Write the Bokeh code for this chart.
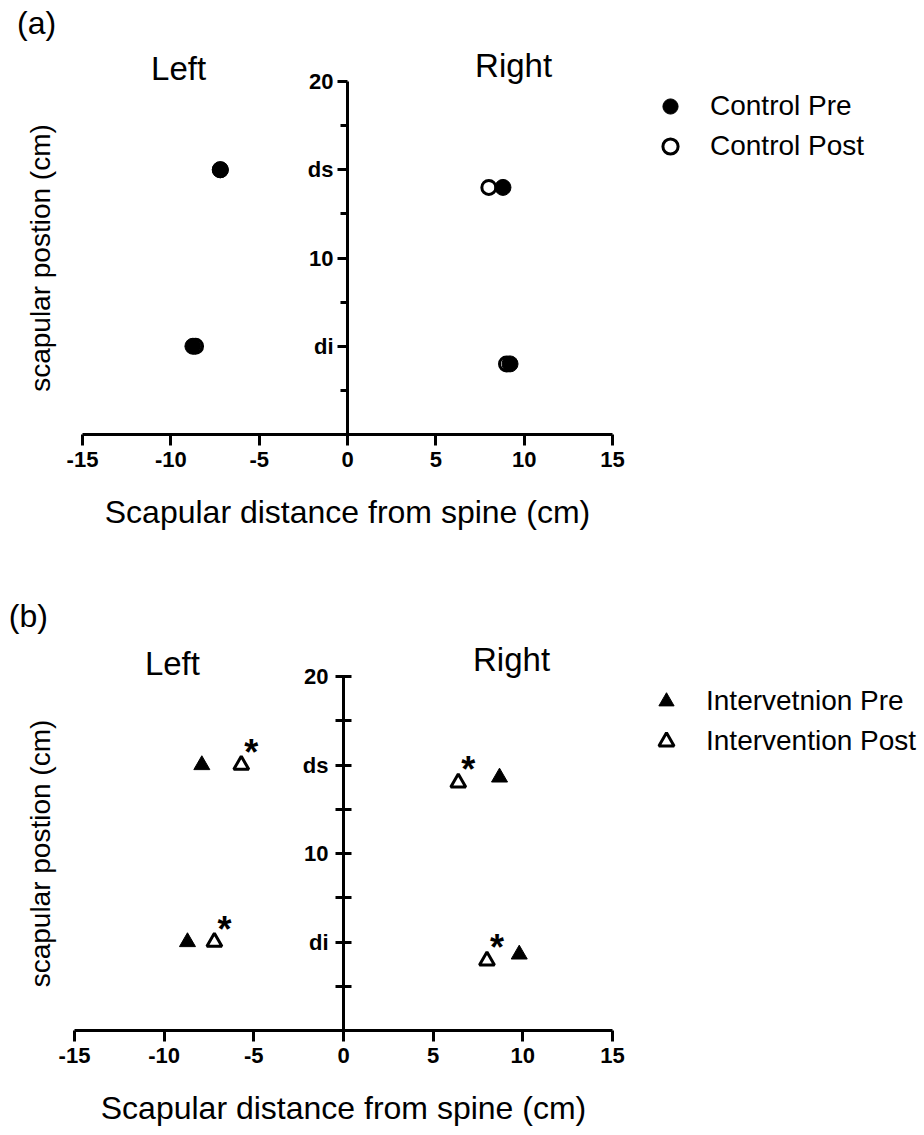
import math
from bokeh.plotting import figure
from bokeh.models import Range1d, FixedTicker, Label, Legend, LegendItem, ColumnDataSource
from bokeh.layouts import column
from bokeh.embed import file_html
from bokeh.resources import INLINE
from bokeh.core.properties import value

# ---------------- data ----------------
x_ticks = [-15, -10, -5, 0, 5, 10, 15]
x_tick_names = {-15: "-15", -10: "-10", -5: "-5"}
y_ticks = [5, 10, 15, 20]
y_minor = [2.5, 7.5, 12.5, 17.5]
y_tick_names = {5: "di", 15: "ds"}

# panel (a) control group: (distance from spine, scapular position)
ctrl_pre_x = [-7.2, -8.75, 8.8, 9.2]
ctrl_pre_y = [15.0, 5.0, 14.0, 4.0]
ctrl_post_x = [-7.2, -8.6, 8.0, 9.0]
ctrl_post_y = [15.0, 5.0, 14.0, 4.0]

# panel (b) intervention group
int_pre_x = [-7.9, -8.7, 8.7, 9.8]
int_pre_y = [15.0, 5.0, 14.3, 4.3]
int_post_x = [-5.7, -7.2, 6.4, 8.0]
int_post_y = [15.0, 5.0, 14.0, 3.95]
int_post_sig = ["*", "*", "*", "*"]

FONT = "Liberation Sans"
W = 924


def base_fig(height, px_left, px_right, px_top, px_bottom, outer_ticks):
    # frame covers the whole canvas; ranges chosen so that x=-15..15 spans
    # px_left..px_right and y=0..20 spans px_bottom..px_top
    kx = (px_right - px_left) / 30.0
    ky = (px_bottom - px_top) / 20.0
    xr = Range1d(-15 - px_left / kx, 15 + (W - px_right) / kx)
    yr = Range1d(0 - (height - px_bottom) / ky, 20 + px_top / ky)
    p = figure(width=W, height=height, x_range=xr, y_range=yr,
               output_backend="svg", toolbar_location=None,
               min_border=0, outline_line_color=None,
               background_fill_color="white", border_fill_color="white")
    p.grid.visible = False
    xa = p.xaxis[0]
    xa.fixed_location = 0
    xa.bounds = (-15, 15)
    xa.ticker = FixedTicker(ticks=x_ticks)
    xa.major_label_overrides = x_tick_names
    xa.minor_tick_line_color = None
    xa.major_tick_in = 0
    xa.major_tick_out = 11
    xa.axis_line_width = 3
    xa.major_tick_line_width = 3
    xa.major_label_text_font = FONT
    xa.major_label_text_font_style = "bold"
    xa.major_label_text_font_size = "22px"
    xa.major_label_text_color = "black"
    xa.major_label_standoff = 6
    xa.axis_label = "Scapular distance from spine (cm)"
    xa.axis_label_text_font = FONT
    xa.axis_label_text_font_style = "normal"
    xa.axis_label_text_font_size = "32px"
    xa.axis_label_text_color = "black"
    xa.axis_label_standoff = 24

    ya = p.yaxis[0]
    ya.fixed_location = 0
    ya.bounds = (0, 20)
    ya.ticker = FixedTicker(ticks=y_ticks, minor_ticks=y_minor)
    ya.major_label_overrides = y_tick_names
    ya.axis_line_width = 3
    ya.major_tick_line_width = 3
    ya.minor_tick_line_width = 3
    if outer_ticks:
        ya.major_tick_in = 0
        ya.major_tick_out = 10
        ya.minor_tick_in = 0
        ya.minor_tick_out = 7
        ya.major_label_standoff = 4
    else:
        ya.major_tick_in = 8
        ya.major_tick_out = 8
        ya.minor_tick_in = 8
        ya.minor_tick_out = 8
        ya.major_label_standoff = 7
    ya.major_label_text_font = FONT
    ya.major_label_text_font_style = "bold"
    ya.major_label_text_font_size = "22px"
    ya.major_label_text_color = "black"
    return p


def add_texts(p, tag, tag_xy, left_xy, right_xy, ylab_x):
    p.add_layout(Label(x=tag_xy[0], y=tag_xy[1], text=tag, text_font=FONT, text_font_size="32px",
                       text_align="center", text_baseline="middle", text_color="black"))
    p.add_layout(Label(x=left_xy[0], y=left_xy[1], text="Left", text_font=FONT, text_font_size="33px",
                       text_align="center", text_baseline="middle", text_color="black"))
    p.add_layout(Label(x=right_xy[0], y=right_xy[1], text="Right", text_font=FONT, text_font_size="33px",
                       text_align="center", text_baseline="middle", text_color="black"))
    p.add_layout(Label(x=ylab_x, y=10, text="scapular postion (cm)", text_font=FONT, text_font_size="28px",
                       text_align="center", text_baseline="middle", angle=math.pi / 2,
                       text_color="black"))


def add_legend(p, items, loc):
    lg = Legend(items=items, location=loc, glyph_width=38, glyph_height=38, label_height=40,
                spacing=0, padding=0, margin=0, label_standoff=21, border_line_color=None,
                background_fill_alpha=0, label_text_font=FONT, label_text_font_size="28px",
                label_text_baseline="middle", label_text_color="black")
    p.add_layout(lg)


# ---------------- panel (a) ----------------
HA = 595
pa = base_fig(HA, 82, 612, 81, 434, True)
r_cpost = pa.scatter(ctrl_post_x, ctrl_post_y, marker="circle", size=14, fill_color="white",
                     line_color="black", line_width=3)
r_cpre = pa.scatter(ctrl_pre_x, ctrl_pre_y, marker="circle", size=16, fill_color="black",
                    line_color="black", line_width=1)
add_texts(pa, "(a)", (-17.6, 23.3), (-9.56, 20.75), (9.4, 20.9), -17.4)
add_legend(pa, [LegendItem(label="Control Pre", renderers=[r_cpre]),
                LegendItem(label="Control Post", renderers=[r_cpost])], (651, HA - 166))

# ---------------- panel (b) ----------------
HB = 540
pb = base_fig(HB, 74, 612, 81, 435, False)
r_ipre = pb.scatter(int_pre_x, int_pre_y, marker="triangle", size=16, fill_color="black",
                    line_color="black", line_width=1)
r_ipost = pb.scatter(int_post_x, int_post_y, marker="triangle", size=15, fill_color="white",
                     line_color="black", line_width=3)
sig_src = ColumnDataSource(dict(x=int_post_x, y=int_post_y, t=int_post_sig))
pb.text(x="x", y="y", text="t", source=sig_src, x_offset=10, y_offset=-13,
        text_font=value(FONT), text_font_size="36px", text_font_style="bold",
        text_align="center", text_baseline="middle", text_color="black")
add_texts(pb, "(b)", (-17.57, 23.4), (-9.54, 20.75), (9.37, 20.95), -16.9)
add_legend(pb, [LegendItem(label="Intervetnion Pre", renderers=[r_ipre]),
                LegendItem(label="Intervention Post", renderers=[r_ipost])], (647, HB - 166))

layout = column(pa, pb, spacing=0)
open("out.html", "w").write(file_html(layout, INLINE))
